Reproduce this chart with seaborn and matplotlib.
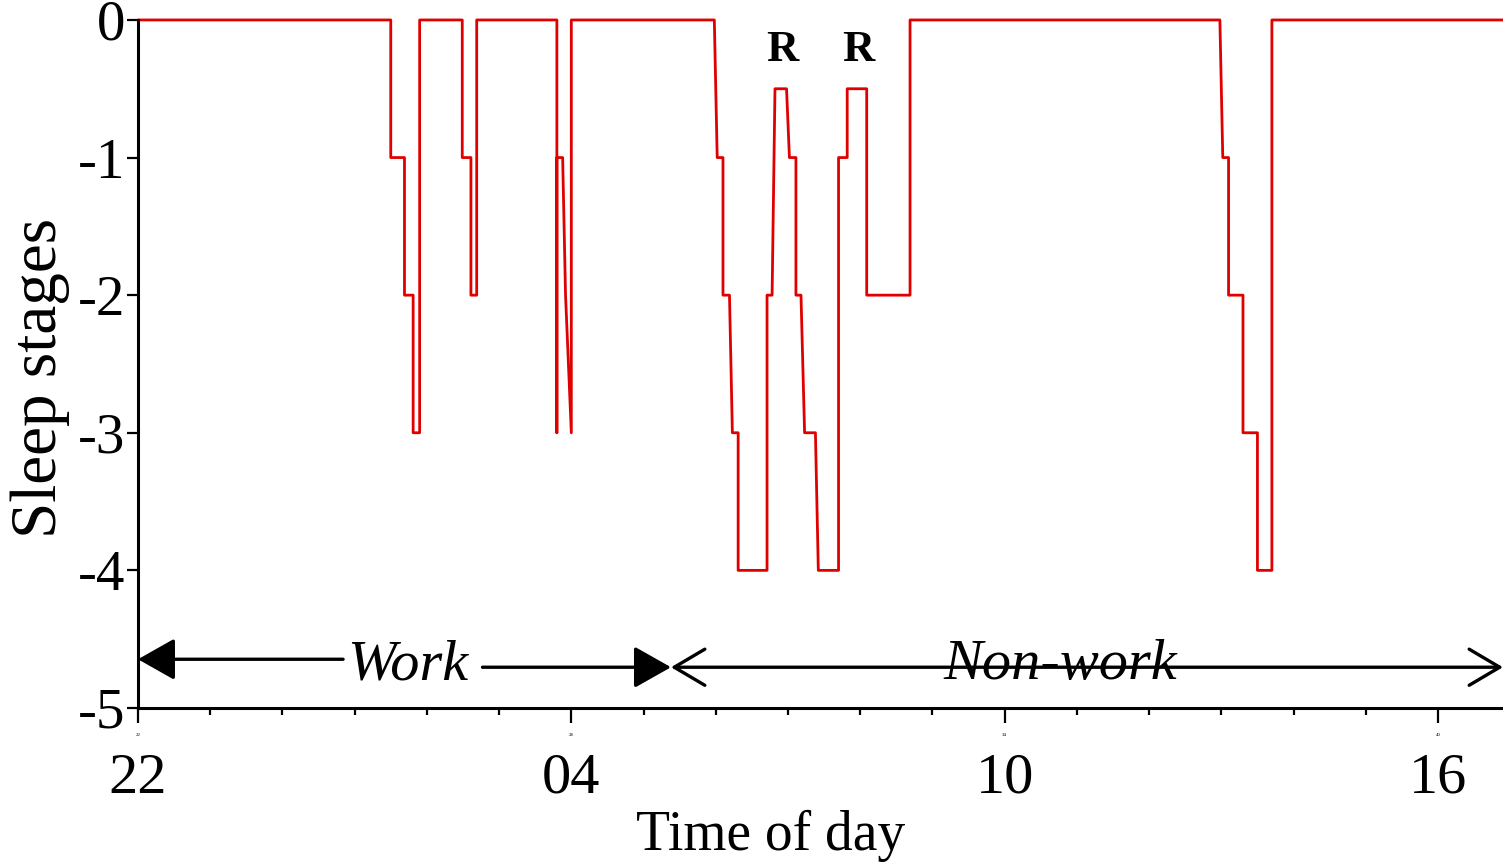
import numpy as np
import pandas as pd
import seaborn as sns
import matplotlib
matplotlib.use('Agg')
from matplotlib import pyplot as plt
from matplotlib.ticker import MultipleLocator
from matplotlib import transforms

# hypnogram (hours after midnight of day 1, so 28 = 04:00)
hours = [22.00,
         25.50, 25.50, 25.69, 25.69, 25.81, 25.81, 25.90, 25.90,
         26.49, 26.49, 26.61, 26.61, 26.69, 26.69,
         27.80, 27.80, 27.80, 27.88, 27.92, 28.00, 28.00,
         29.98, 30.02, 30.10, 30.10, 30.19, 30.23, 30.31, 30.31,
         30.71, 30.71, 30.78, 30.82, 30.98, 31.02, 31.11, 31.11,
         31.18, 31.23, 31.38, 31.42, 31.70, 31.70, 31.82, 31.82,
         32.09, 32.09, 32.69, 32.69,
         36.98, 37.02, 37.10, 37.10, 37.30, 37.30, 37.50, 37.50,
         37.70, 37.70,
         40.90]
stages = [0,
          0, -1, -1, -2, -2, -3, -3, 0,
          0, -1, -1, -2, -2, 0,
          0, -3, -1, -1, -2, -3, 0,
          0, -1, -1, -2, -2, -3, -3, -4,
          -4, -2, -2, -0.5, -0.5, -1, -1, -2,
          -2, -3, -3, -4, -4, -1, -1, -0.5,
          -0.5, -2, -2, 0,
          0, -1, -1, -2, -2, -3, -3, -4,
          -4, 0,
          0]

rem_x = [30.92, 31.97]
rem_labels = ['R', 'R']

x_major = [22, 28, 34, 40]
x_small_labels = ['22', '28', '34', '40']
x_big_labels = ['22', '04', '10', '16']
y_ticks = [-5, -4, -3, -2, -1, 0]
y_labels = ['-5', '-4', '-3', '-2', '-1', '0']

df = pd.DataFrame({'hour': hours, 'stage': stages})

sns.set_theme(style='ticks')
plt.rcParams['font.family'] = ['Liberation Serif', 'DejaVu Serif']
plt.rcParams['axes.unicode_minus'] = False
for key in ['text.color', 'axes.labelcolor', 'xtick.color', 'ytick.color',
            'axes.edgecolor']:
    plt.rcParams[key] = 'black'

fig = plt.figure(figsize=(15.03, 8.64), dpi=100)
ax = fig.add_axes([0.0918, 0.1806, 0.9082, 0.7963])

sns.lineplot(data=df, x='hour', y='stage', sort=False, estimator=None,
             color='#e00000', linewidth=2, clip_on=False, ax=ax)

ax.set_xlim(22, 40.9)
ax.set_ylim(-5, 0)
sns.despine(ax=ax)
for s in ['left', 'bottom']:
    ax.spines[s].set_linewidth(2.2)
    ax.spines[s].set_color('black')

ax.set_yticks(y_ticks)
ax.set_yticklabels(y_labels, fontsize=41)
ax.tick_params(axis='y', length=8, width=1.6, pad=1, color='black')

ax.set_xticks(x_major)
ax.set_xticklabels(x_small_labels, fontsize=3.5)
ax.xaxis.set_minor_locator(MultipleLocator(1))
ax.tick_params(axis='x', which='major', length=11, width=1.6, pad=7, color='black')
ax.tick_params(axis='x', which='minor', length=5, width=1.6, color='black')

# the big clock labels below the tiny ones
trans = transforms.blended_transform_factory(ax.transData, ax.transAxes)
for xv, lab in zip(x_major, x_big_labels):
    ax.text(xv, -0.123, lab, transform=trans, ha='center', va='baseline',
            fontsize=42, clip_on=False)

ax.set_xlabel('Time of day', fontsize=40)
ax.xaxis.label.set_va('baseline')
ax.xaxis.set_label_coords(0.4637, -0.2064)
ax.set_ylabel('Sleep stages', fontsize=47)
ax.yaxis.set_label_coords(-0.05, 0.48)

for xv, lab in zip(rem_x, rem_labels):
    ax.text(xv, -0.22, lab, ha='center', va='center', fontsize=32,
            fontweight='bold')

# Work / Non-work arrows
filled = dict(arrowstyle='-|>,head_length=23,head_width=13', color='black',
              lw=2.4, mutation_scale=1, shrinkA=0, shrinkB=0)
opened = dict(arrowstyle='<->,head_length=22,head_width=13', color='black',
              lw=2.4, mutation_scale=1, shrinkA=0, shrinkB=0)
ax.annotate('', xy=(22, -4.646), xytext=(24.84, -4.646), arrowprops=filled,
            annotation_clip=False)
ax.annotate('', xy=(29.38, -4.704), xytext=(26.77, -4.704), arrowprops=filled,
            annotation_clip=False)
ax.annotate('', xy=(29.38, -4.704), xytext=(40.9, -4.704), arrowprops=opened,
            annotation_clip=False)
ax.text(25.74, -4.69, 'Work', ha='center', va='center', fontsize=42,
        style='italic')
ax.text(34.77, -4.69, 'Non-work', ha='center', va='center', fontsize=42,
        style='italic')

plt.savefig('out.png', dpi=100)
